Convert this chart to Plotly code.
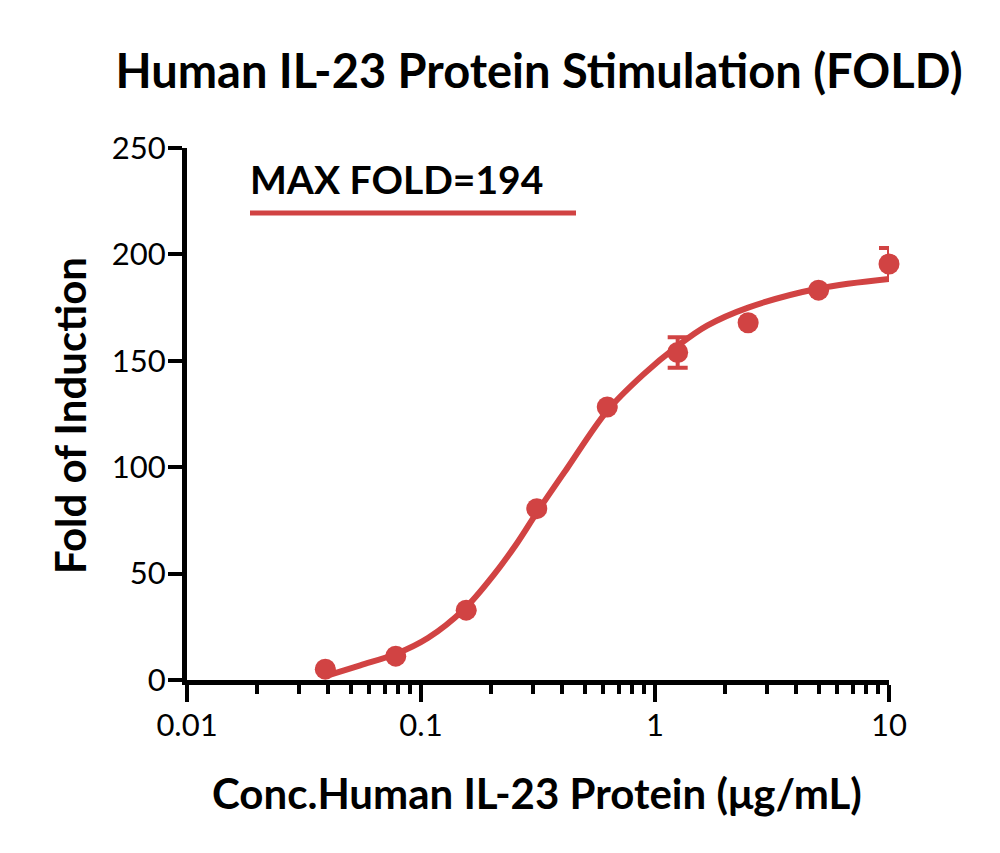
import plotly.graph_objects as go

# Measured points
conc = [0.039, 0.078, 0.156, 0.3125, 0.625, 1.25, 2.5, 5.0, 10.0]
fold = [5.1, 11.2, 32.8, 80.5, 128.3, 153.9, 167.9, 183.2, 195.5]
fold_err = [float("nan"), float("nan"), float("nan"), float("nan"), float("nan"), 7.2, float("nan"), float("nan"), 7.5]

# Fitted curve
fit_x = [0.041, 0.055, 0.078, 0.107, 0.153, 0.205, 0.258, 0.314, 0.42, 0.625, 0.89, 1.25, 1.67, 2.5, 5.0, 10.0]
fit_y = [2.5, 6.9, 12.2, 19.7, 33.3, 49.5, 64.5, 79.0, 99.3, 126.5, 143.5, 157.0, 166.5, 175.0, 184.0, 188.5]

x_major = [0.01, 0.1, 1, 10]
x_major_labels = ["0.01", "0.1", "1", "10"]
x_minor = [m * d for d in (0.01, 0.1, 1) for m in range(2, 10)]
y_ticks = [0, 50, 100, 150, 200, 250]

title_text = "Human IL-23 Protein Stimulation (FOLD)"
x_title = "Conc.Human IL-23 Protein (μg/mL)"
y_title = "Fold of Induction"
legend_text = "MAX FOLD=194"

RED = "#d14343"
FONT = "Lato"

fig = go.Figure()
fig.add_trace(go.Scatter(
    x=fit_x, y=fit_y, mode="lines",
    line=dict(color=RED, width=6, shape="spline", smoothing=1.0),
    hoverinfo="skip", showlegend=False,
))
fig.add_trace(go.Scatter(
    x=conc, y=fold, mode="markers",
    marker=dict(color=RED, size=21),
    error_y=dict(type="data", array=fold_err, visible=True, color=RED, thickness=4, width=10),
    showlegend=False, cliponaxis=False,
))

OFF = 8  # page body margin
W, H = 1000, 853
# plot area target in page pixels
PL, PR, PT, PB = 187, 889, 148, 680
L = PL - OFF
R = W + OFF - PR
T = PT - OFF
B = H + OFF - PB
pw, ph = PR - PL, PB - PT

def px(xp):
    return (xp - PL) / pw

def py(yp):
    return (PB - yp) / ph

fig.update_layout(
    width=W, height=H,
    margin=dict(l=L, r=R, t=T, b=B, pad=0),
    paper_bgcolor="white", plot_bgcolor="white",
    font=dict(family=FONT, color="black"),
    showlegend=False,
    title=dict(text=title_text, x=(539 - OFF) / W, xanchor="center", y=1 - (72 - OFF) / H, yanchor="middle",
               font=dict(family=FONT, size=47, color="black", weight="bold")),
)
fig.update_xaxes(
    type="log", range=[-2, 1],
    tickvals=x_major, ticktext=x_major_labels,
    ticks="outside", ticklen=17, tickwidth=4, tickcolor="black",
    showline=True, linewidth=5, linecolor="black",
    showgrid=False, zeroline=False,
    tickfont=dict(family=FONT, size=31, color="black"),
    ticklabelstandoff=-3,
    minor=dict(tickvals=x_minor, ticks="outside", ticklen=9, tickwidth=4, tickcolor="black", showgrid=False),
)
fig.update_yaxes(
    range=[0, 250], tickvals=y_ticks,
    ticks="outside", ticklen=14, tickwidth=4, tickcolor="black",
    showline=True, linewidth=5, linecolor="black",
    showgrid=False, zeroline=False,
    tickfont=dict(family=FONT, size=31, color="black"),
    ticklabelstandoff=-4,
)

fig.add_annotation(text=x_title, xref="paper", yref="paper", x=px(537), y=py(793),
                   xanchor="center", yanchor="middle", showarrow=False,
                   font=dict(family=FONT, size=42, color="black", weight="bold"))
fig.add_annotation(text=y_title, xref="paper", yref="paper", x=px(70), y=py(416),
                   xanchor="center", yanchor="middle", showarrow=False, textangle=-90,
                   font=dict(family=FONT, size=42, color="black", weight="bold"))
fig.add_annotation(text=legend_text, xref="paper", yref="paper", x=px(396), y=py(179),
                   xanchor="center", yanchor="middle", showarrow=False,
                   font=dict(family=FONT, size=39, color="black", weight="bold"))
fig.add_shape(type="line", xref="paper", yref="paper", x0=px(250), x1=px(576), y0=py(213), y1=py(213),
              line=dict(color=RED, width=5))

fig.write_html("out.html")
